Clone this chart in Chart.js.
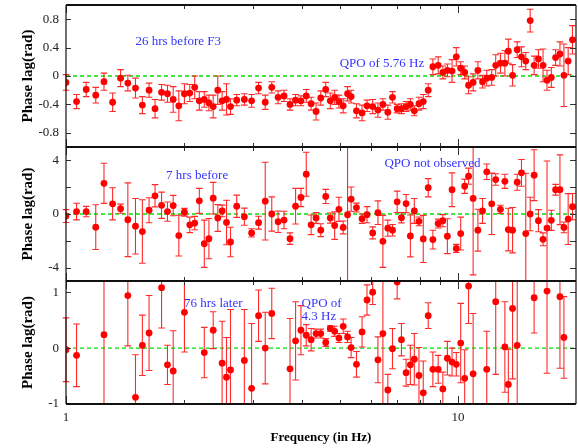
<!DOCTYPE html>
<html>
<head>
<meta charset="utf-8">
<title>Phase lag</title>
<script src="https://cdn.jsdelivr.net/npm/chart.js@4.4.1/dist/chart.umd.min.js"></script>
<style>
	html, body { margin: 0; padding: 0; background: #fff; overflow: hidden; }
	#wrap { width: 578px; height: 448px; overflow: hidden; }
	canvas { display: block; }
</style>
</head>
<body>
<div id="wrap"><canvas id="myLag" width="580" height="448"></canvas></div>
<script>
// frequency bins (Hz), shared by all three observations
var freq = [
	1.000, 1.064, 1.126, 1.191, 1.250, 1.315, 1.378, 1.438, 1.504, 1.566,
	1.629, 1.687, 1.753, 1.815, 1.877, 1.940, 2.005, 2.069, 2.130, 2.188,
	2.253, 2.315, 2.374, 2.439, 2.502, 2.567, 2.628, 2.726, 2.851, 2.975,
	3.099, 3.223, 3.349, 3.476, 3.600, 3.728, 3.852, 3.975, 4.101, 4.220,
	4.345, 4.466, 4.598, 4.723, 4.846, 4.969, 5.095, 5.227, 5.338, 5.508,
	5.692, 5.860, 6.058, 6.248, 6.433, 6.622, 6.806, 6.995, 7.173, 7.372,
	7.559, 7.737, 7.951, 8.153, 8.395, 8.628, 8.901, 9.148, 9.395, 9.656,
	9.900, 10.16, 10.40, 10.64, 10.93, 11.24, 11.55, 11.84, 12.19, 12.48,
	12.83, 13.17, 13.44, 13.78, 14.16, 14.52, 14.89, 15.28, 15.64, 16.04,
	16.48, 16.87, 17.30, 17.74, 18.20, 18.63, 19.10, 19.59
];

// 26 hrs before F3
var lagBefore = [
	-0.09, -0.36, -0.19, -0.27, -0.08, -0.37, -0.03, -0.10, -0.17, -0.41,
	-0.20, -0.46, -0.23, -0.25, -0.33, -0.42, -0.25, -0.24, -0.16, -0.35,
	-0.33, -0.38, -0.43, -0.20, -0.35, -0.33, -0.43, -0.34, -0.33, -0.35,
	-0.17, -0.37, -0.16, -0.30, -0.28, -0.40, -0.34, -0.35, -0.28, -0.39,
	-0.50, -0.31, -0.19, -0.35, -0.30, -0.36, -0.42, -0.25, -0.29, -0.49,
	-0.52, -0.42, -0.43, -0.48, -0.40, -0.51, -0.30, -0.46, -0.46, -0.43,
	-0.40, -0.49, -0.39, -0.36, -0.20, 0.13, 0.15, 0.05, 0.08, 0.07,
	0.27, 0.11, 0.05, -0.13, -0.09, 0.08, -0.08, -0.03, -0.02, 0.15,
	0.18, 0.18, 0.35, 0.01, 0.37, 0.27, 0.21, 0.78, 0.15, 0.24,
	0.15, -0.06, -0.02, 0.26, 0.31, 0.01, 0.21, 0.51
];
var errBefore = [
	0.11, 0.10, 0.10, 0.11, 0.12, 0.13, 0.12, 0.11, 0.14, 0.12,
	0.10, 0.13, 0.11, 0.12, 0.18, 0.21, 0.14, 0.12, 0.16, 0.13,
	0.11, 0.11, 0.16, 0.20, 0.13, 0.22, 0.11, 0.08, 0.08, 0.09,
	0.08, 0.10, 0.08, 0.09, 0.08, 0.08, 0.08, 0.07, 0.09, 0.09,
	0.12, 0.10, 0.10, 0.11, 0.10, 0.09, 0.10, 0.10, 0.09, 0.10,
	0.11, 0.08, 0.10, 0.10, 0.08, 0.10, 0.08, 0.06, 0.07, 0.07,
	0.08, 0.07, 0.09, 0.10, 0.09, 0.11, 0.12, 0.09, 0.09, 0.16,
	0.13, 0.09, 0.09, 0.12, 0.12, 0.12, 0.09, 0.11, 0.11, 0.15,
	0.14, 0.18, 0.17, 0.15, 0.11, 0.14, 0.12, 0.16, 0.13, 0.13,
	0.23, 0.14, 0.14, 0.11, 0.17, 0.44, 0.19, 0.20
];

// 7 hrs before
var lagNear = [
	-0.15, 0.18, 0.18, -0.98, 2.29, 0.76, 0.40, -0.43, -0.91, -1.31,
	0.28, 1.36, 0.65, 0.18, 0.63, -1.61, 0.13, -0.81, -0.68, 0.98,
	-2.22, -1.84, 1.18, -0.30, 0.23, -0.63, -2.09, 0.58, -0.20, -1.41,
	-0.65, 0.96, 0.00, -0.58, -0.45, -1.84, 0.58, 1.23, 2.97, -0.81,
	-0.30, -1.21, 1.31, -0.30, -0.86, 0.35, -1.00, -0.05, 1.11, 0.48,
	-0.35, -0.05, -1.41, 0.10, -2.04, -1.06, -1.21, 0.91, -0.28, 0.78,
	-1.64, 0.23, -0.55, -1.86, 1.96, -1.91, -0.71, -0.50, -1.66, 1.81,
	-2.57, -1.46, 2.07, 2.82, 1.16, -1.21, 0.23, 3.15, 0.76, 2.57,
	0.35, 2.44, -1.16, -1.21, 2.37, 3.07, -1.46, 0.00, 2.90, -0.50,
	-1.89, -1.05, -0.47, 1.81, 1.81, -1.00, -0.38, 0.55
];
var errNear = [
	0.48, 0.62, 0.39, 1.67, 1.50, 1.20, 0.34, 2.75, 2.07, 2.37,
	0.93, 0.83, 0.98, 0.72, 0.76, 1.52, 0.29, 0.58, 0.50, 0.93,
	1.76, 1.50, 1.18, 1.00, 0.43, 1.66, 1.10, 0.83, 0.64, 0.31,
	0.48, 2.90, 1.28, 0.80, 0.65, 0.43, 1.33, 0.68, 1.64, 0.73,
	0.40, 0.48, 0.53, 0.38, 1.03, 0.90, 0.48, 6.00, 0.90, 0.33,
	0.35, 0.60, 0.45, 0.88, 1.94, 0.60, 0.43, 0.80, 0.38, 0.68,
	1.56, 0.93, 0.33, 1.76, 0.68, 0.70, 0.33, 0.45, 1.30, 1.26,
	0.30, 1.23, 0.53, 0.60, 5.70, 1.56, 0.93, 0.58, 2.29, 0.43,
	0.30, 0.53, 1.59, 1.69, 0.60, 1.00, 4.50, 1.25, 1.90, 0.83,
	0.48, 5.00, 0.75, 0.40, 2.60, 0.40, 1.90, 0.98
];

// 76 hrs later (null = bin not plotted)
var lagLater = [
	-0.03, -0.13, null, null, 0.24, null, null, 0.94, -0.88, 0.05,
	0.27, null, 1.08, -0.30, -0.41, null, 0.64, null, null, null,
	-0.08, null, 0.32, null, -0.27, -0.52, -0.39, null, -0.22, -0.72,
	0.58, 0.00, 0.62, null, null, -0.37, 0.13, 0.32, 0.23, 0.15,
	0.26, 0.26, 0.10, 0.35, 0.30, 0.18, 0.39, 0.20, 0.01, -0.29,
	0.29, 0.86, 1.00, -0.21, 0.26, -0.75, -0.01, 1.18, 0.15, -0.44,
	-0.30, -0.20, -0.49, -0.80, 0.58, -0.38, -0.38, -0.73, -0.18, -0.25,
	-0.29, 0.09, -0.54, 1.11, -0.46, null, null, -0.38, null, 0.83,
	null, 0.02, -0.65, 0.71, 0.05, null, null, null, 0.90, null,
	null, 1.02, null, null, 0.92, 0.19, null, null
];
var errLater = [
	0.57, 0.56, null, null, 1.50, null, null, 0.90, 0.76, 0.54,
	0.67, null, 0.72, 0.35, 0.72, null, 0.71, null, null, null,
	0.45, null, 0.33, null, 0.75, 0.71, 1.08, null, 0.91, 1.16,
	0.46, 0.64, 0.45, null, null, 0.90, 0.70, 0.44, 0.19, 0.20,
	0.08, 0.08, 0.07, 0.05, 0.09, 0.08, 0.13, 0.10, 0.18, 0.23,
	0.27, 0.27, 0.22, 0.41, 1.30, 0.28, 0.36, 0.30, 0.29, 0.24,
	0.35, 0.46, 0.50, 0.57, 0.23, 0.31, 0.25, 0.30, 0.30, 0.25,
	0.21, 0.71, 0.51, 0.67, 1.08, null, null, 0.68, null, 1.30,
	null, 0.81, 0.63, 1.26, 1.20, null, null, null, 0.63, null,
	null, 1.47, null, null, 1.28, 0.73, null, null
];

var xTicks = [1, 2, 3, 4, 5, 6, 7, 8, 9, 10];
var xLabels = [1, 10];
var yTicksTop = [-0.8, -0.4, 0, 0.4, 0.8];
var yTicksMid = [-4, -2, 0, 2, 4];
var yTicksBot = [-1, 0, 1];

// [text, frequency, phase lag, panel]
var notes = [
	['26 hrs before F3', 1.504, 0.49, 'yTop'],
	['QPO of 5.76 Hz', 4.99, 0.18, 'yTop'],
	['7 hrs before', 1.80, 2.9, 'yMid'],
	['QPO not observed', 6.49, 3.8, 'yMid'],
	['76 hrs later', 2.0, 0.79, 'yBot'],
	['QPO of', 3.99, 0.80, 'yBot'],
	['4.3 Hz', 3.99, 0.56, 'yBot']
];

(function(w, d) {
	var fn = function(){
		return fn;
	}

	var panels = [
		{ id: 'yTop', min: -1, max: 1, ticks: yTicksTop, lag: lagBefore, err: errBefore, h: 142, order: 3 },
		{ id: 'yMid', min: -5, max: 5, ticks: yTicksMid, lag: lagNear, err: errNear, h: 134, order: 2 },
		{ id: 'yBot', min: -1, max: 1.2, ticks: yTicksBot, lag: lagLater, err: errLater, h: 123, order: 1 }
	];

	fn.series = function(lag, err){
		var pts = [], errs = [];
		freq.forEach(function(f, i){
			if (lag[i] === null) return;
			pts.push({ x: f, y: lag[i] });
			errs.push(err[i]);
		});
		return { pts: pts, errs: errs };
	}

	// error bars go down just before the dataset's own dots
	fn.errorBars = {
		id: 'errorBars',
		beforeDatasetDraw: function(chart, args){
			var ds = chart.data.datasets[args.index];
			if (!ds.errs) return;
			var ctx = chart.ctx, xs = chart.scales.x, ys = chart.scales[ds.yAxisID];
			ctx.save();
			ctx.beginPath();
			ctx.rect(xs.left - 6, ys.top, xs.right - xs.left + 12, ys.bottom - ys.top);
			ctx.clip();
			ctx.strokeStyle = '#ff2a2a';
			ctx.lineWidth = 1.1;
			ctx.beginPath();
			ds.data.forEach(function(p, i){
				var x = xs.getPixelForValue(p.x);
				var hi = ys.getPixelForValue(p.y + ds.errs[i]);
				var lo = ys.getPixelForValue(p.y - ds.errs[i]);
				ctx.moveTo(x, hi); ctx.lineTo(x, lo);
				ctx.moveTo(x - 3.3, hi); ctx.lineTo(x + 3.3, hi);
				ctx.moveTo(x - 3.3, lo); ctx.lineTo(x + 3.3, lo);
			});
			ctx.stroke();
			ctx.restore();
		}
	}

	// panel borders, inward tick marks and the blue notes
	fn.frame = {
		id: 'frame',
		afterDraw: function(chart){
			var ctx = chart.ctx, xs = chart.scales.x;
			ctx.save();
			panels.forEach(function(p){
				var ys = chart.scales[p.id];
				ctx.strokeStyle = '#333';
				ctx.lineWidth = 1;
				ctx.beginPath();
				xTicks.forEach(function(v){
					var x = Math.round(xs.getPixelForValue(v)) + 0.5;
					var len = xLabels.indexOf(v) >= 0 ? 8 : 4;
					ctx.moveTo(x, ys.top); ctx.lineTo(x, ys.top + len);
					ctx.moveTo(x, ys.bottom); ctx.lineTo(x, ys.bottom - len);
				});
				p.ticks.forEach(function(v){
					var y = Math.round(ys.getPixelForValue(v)) + 0.5;
					ctx.moveTo(xs.left, y); ctx.lineTo(xs.left + 5, y);
					ctx.moveTo(xs.right, y); ctx.lineTo(xs.right - 6, y);
				});
				ctx.stroke();

				ctx.strokeStyle = '#111';
				ctx.lineWidth = 2;
				ctx.beginPath();
				ctx.moveTo(xs.left, ys.top); ctx.lineTo(xs.right, ys.top);
				ctx.moveTo(xs.left, ys.bottom); ctx.lineTo(xs.right, ys.bottom);
				ctx.stroke();
				ctx.lineWidth = 1.2;
				ctx.beginPath();
				ctx.moveTo(xs.left, ys.top); ctx.lineTo(xs.left, ys.bottom);
				ctx.moveTo(xs.right, ys.top); ctx.lineTo(xs.right, ys.bottom);
				ctx.stroke();
			});

			ctx.fillStyle = '#3333ff';
			ctx.font = '13px "Liberation Serif", "Times New Roman", serif';
			ctx.textAlign = 'left';
			ctx.textBaseline = 'middle';
			notes.forEach(function(n){
				var ys = chart.scales[n[3]];
				ctx.fillText(n[0], xs.getPixelForValue(n[1]), ys.getPixelForValue(n[2]));
			});
			ctx.restore();
		}
	}

	fn.yAxis = function(p){
		return {
			type: 'linear',
			position: 'left',
			stack: 'lag',
			stackWeight: p.h,
			weight: p.order,
			min: p.min,
			max: p.max,
			grid: { display: false, drawTicks: false },
			border: { display: false },
			ticks: {
				padding: 7,
				color: '#222',
				font: { size: 13 },
				callback: function(v){ return String(v); }
			},
			title: {
				display: true,
				text: 'Phase lag(rad)',
				color: '#000',
				font: { size: 15, weight: 'bold' },
				padding: { top: 19, bottom: 0 }
			},
			afterBuildTicks: function(s){
				s.ticks = p.ticks.map(function(v){ return { value: v }; });
			},
			afterFit: function(s){
				s.width = 66;
				s.paddingTop = 0;
				s.paddingBottom = 0;
			}
		};
	}

	fn.initLag = function(){
		var datasets = [], scales = {};

		scales.x = {
			type: 'logarithmic',
			position: 'bottom',
			min: 1,
			max: 20,
			grid: { display: false, drawTicks: false },
			border: { display: false },
			ticks: {
				padding: 6,
				autoSkip: false,
				maxRotation: 0,
				color: '#222',
				font: { size: 13 },
				callback: function(v){ return xLabels.indexOf(v) >= 0 ? String(v) : ''; }
			},
			title: {
				display: true,
				text: 'Frequency (in Hz)',
				color: '#000',
				font: { size: 13, weight: 'bold' },
				padding: { top: 0, bottom: 3 }
			},
			afterBuildTicks: function(s){
				s.ticks = xTicks.map(function(v){ return { value: v }; });
			},
			afterFit: function(s){
				s.height = 44;
				s.paddingLeft = 0;
				s.paddingRight = 0;
			}
		};

		panels.forEach(function(p){
			var s = fn.series(p.lag, p.err);
			scales[p.id] = fn.yAxis(p);
			// dashed zero level
			datasets.push({
				data: [{ x: scales.x.min, y: 0 }, { x: scales.x.max, y: 0 }],
				yAxisID: p.id,
				showLine: true,
				borderColor: '#00e000',
				borderWidth: 1.4,
				borderDash: [4, 3],
				pointRadius: 0,
				order: 5
			});
			datasets.push({
				data: s.pts,
				errs: s.errs,
				yAxisID: p.id,
				backgroundColor: '#ff0000',
				pointBackgroundColor: '#ff0000',
				pointBorderWidth: 0,
				pointRadius: 3.4,
				order: 1
			});
		});

		var ctx = d.getElementById('myLag').getContext('2d');
		var myLagChart = new Chart(ctx, {
			type: 'scatter',
			data: { datasets: datasets },
			options: {
				responsive: false,
				animation: false,
				devicePixelRatio: 1,
				layout: { padding: { top: 5, left: 0, right: 0, bottom: 0 } },
				plugins: {
					legend: { display: false },
					tooltip: { enabled: false }
				},
				scales: scales
			},
			plugins: [fn.errorBars, fn.frame]
		});
	}

	Chart.defaults.font.family = '"Liberation Serif", "Times New Roman", serif';
	fn.initLag();

	w.PhaseLag = fn;

})(window, document)
</script>
</body>
</html>
